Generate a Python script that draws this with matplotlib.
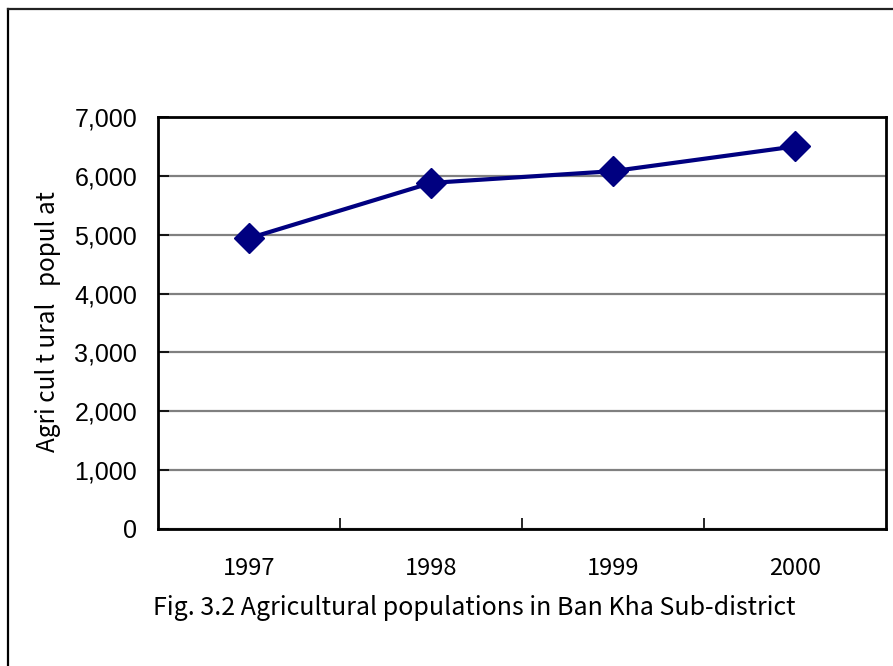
import matplotlib
matplotlib.use("Agg")
import matplotlib.pyplot as plt
from matplotlib.lines import Line2D
from matplotlib.ticker import FuncFormatter, FixedLocator

# Agricultural population, Ban Kha Sub-district
years = ["1997", "1998", "1999", "2000"]
population = [4940, 5880, 6080, 6500]
y_ticks = [0, 1000, 2000, 3000, 4000, 5000, 6000, 7000]

W, H = 893, 666
fig = plt.figure(figsize=(W / 100, H / 100), dpi=100)
fig.patch.set_facecolor("white")

# Axes box in pixel terms
left, right, top, bottom = 158, 886, 117, 529
ax = fig.add_axes([left / W, 1 - bottom / H, (right - left) / W, (bottom - top) / H])

x = list(range(len(years)))
ax.plot(x, population, color="#000080", linewidth=3.0, marker="D",
        markersize=15, markeredgecolor="#000080", markerfacecolor="#000080",
        zorder=5, clip_on=False)

ax.set_xlim(-0.5, len(years) - 0.5)
ax.set_ylim(y_ticks[0], y_ticks[-1])

# y axis: gridlines with short inward ticks
ax.set_yticks(y_ticks)
ax.yaxis.set_major_formatter(FuncFormatter(lambda v, p: f"{int(v):,}"))
ax.grid(axis="y", color="#808080", linewidth=1.6, zorder=1)
ax.tick_params(axis="y", direction="in", length=8, width=1.2, color="black",
               pad=15, labelsize=18)
for lab in ax.get_yticklabels():
    lab.set_fontfamily("Liberation Sans")

# x axis: category labels, inward ticks between categories
ax.set_xticks(x)
ax.set_xticklabels(years, fontfamily="Noto Sans CJK JP", fontsize=17)
ax.tick_params(axis="x", which="major", length=0, pad=20)
ax.xaxis.set_minor_locator(FixedLocator([i + 0.5 for i in x[:-1]]))
ax.tick_params(axis="x", which="minor", direction="in", length=8, width=1.2,
               color="black")

for side in ["left", "bottom", "top", "right"]:
    ax.spines[side].set_linewidth(2.0)
    ax.spines[side].set_color("black")
    ax.spines[side].set_zorder(6)

fig.text(48 / W, 1 - 322 / H, "Agri cul t ural   popul at", rotation=90,
         ha="center", va="center", fontsize=17.5, fontfamily="Noto Sans CJK JP")

fig.text(474 / W, 1 - 608 / H,
         "Fig. 3.2 Agricultural populations in Ban Kha Sub-district",
         ha="center", va="center", fontsize=18, fontfamily="Noto Sans CJK JP")

# outer frame (left and top edges)
fig.add_artist(Line2D([7.5 / W, 7.5 / W], [0, 1 - 8.7 / H],
                      transform=fig.transFigure, color="black", linewidth=1.6))
fig.add_artist(Line2D([7.5 / W, 1], [1 - 8.7 / H, 1 - 8.7 / H],
                      transform=fig.transFigure, color="#222222", linewidth=1.6))

fig.savefig("out.png", dpi=100, facecolor="white")
